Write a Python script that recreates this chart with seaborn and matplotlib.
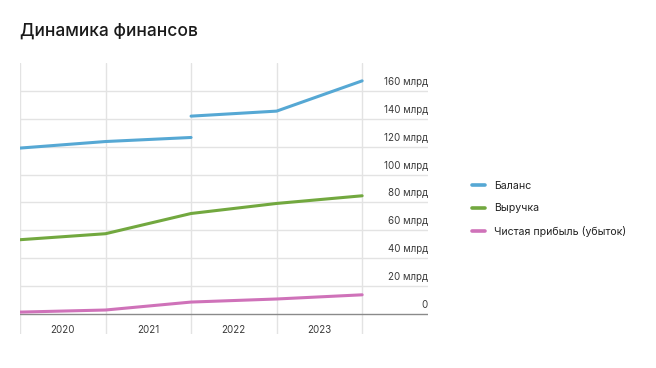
import numpy as np
import pandas as pd
import seaborn as sns
import matplotlib.pyplot as plt

# data (billions of rubles); points sit on year boundaries
positions = [0, 1, 2, 2, 3, 4]
balance = [119, 123.7, 126.6, 141.9, 145.5, 167.2]
balance_seg = [0, 0, 0, 1, 1, 1]
rev_pos = [0, 1, 2, 3, 4]
revenue = [53.3, 57.6, 72.1, 79.3, 84.8]
profit = [1.4, 2.9, 8.6, 10.8, 13.8]

years = ["2020", "2021", "2022", "2023"]
y_ticks = [0, 20, 40, 60, 80, 100, 120, 140, 160]
series_names = ["Баланс", "Выручка", "Чистая прибыль (убыток)"]
colors = ["#56a8d4", "#72a83f", "#cf72b9"]

df = pd.concat([
    pd.DataFrame({"x": positions, "y": balance, "seg": balance_seg, "series": series_names[0]}),
    pd.DataFrame({"x": rev_pos, "y": revenue, "seg": 0, "series": series_names[1]}),
    pd.DataFrame({"x": rev_pos, "y": profit, "seg": 0, "series": series_names[2]}),
], ignore_index=True)

sns.set_style("white")
plt.rcParams["font.family"] = ["Inter", "DejaVu Sans"]

fig = plt.figure(figsize=(6.56, 3.68), dpi=100)
ax = fig.add_axes([20 / 656, 34 / 368, 408 / 656, 271 / 368])

sns.lineplot(data=df, x="x", y="y", hue="series", units="seg", estimator=None,
             hue_order=series_names, palette=colors, linewidth=2.2, ax=ax,
             legend=False, zorder=3)

ax.set_xlim(0, 4.77)
ax.set_ylim(-14.3, 180)

for v in y_ticks:
    if v == 0:
        ax.axhline(v, color="#8a8a8a", linewidth=1, zorder=2)
    else:
        ax.axhline(v, color="#e3e3e3", linewidth=1, zorder=1)
    lab = "0" if v == 0 else f"{v} млрд"
    ax.annotate(lab, xy=(1, v), xycoords=("axes fraction", "data"),
                xytext=(0, 6.5), textcoords="offset points",
                ha="right", va="center", fontsize=7, color="#3a3a3a")

for p in range(5):
    ax.axvline(p, color="#e3e3e3", linewidth=1, zorder=1)

for i, yr in enumerate(years):
    ax.text(i + 0.5, -11.3, yr, ha="center", va="center", fontsize=7, color="#3a3a3a")

ax.set_xticks([])
ax.set_yticks([])
ax.set_xlabel("")
ax.set_ylabel("")
for s in ax.spines.values():
    s.set_visible(False)

handles = [plt.Line2D([0], [0], color=c, linewidth=2.6) for c in colors]
fig.legend(handles, series_names, loc="center left", bbox_to_anchor=(462 / 656, 1 - 209 / 368),
           frameon=False, fontsize=7.6, handlelength=1.3, handletextpad=0.8,
           labelspacing=1.2, labelcolor="#222222")

fig.text(20 / 656, 1 - 31 / 368, "Динамика финансов", fontsize=12.5, fontweight="medium",
         color="#1a1a1a", ha="left", va="center")

fig.savefig("out.png", dpi=100)
